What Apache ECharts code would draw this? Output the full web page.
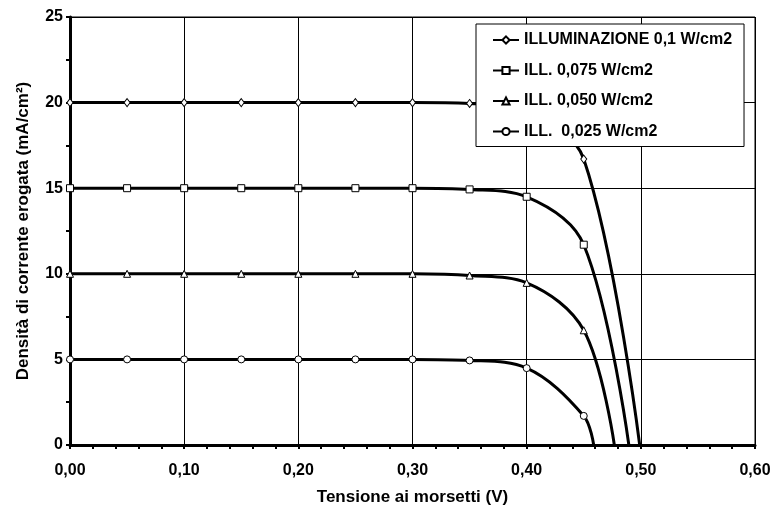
<!DOCTYPE html>
<html>
<head>
<meta charset="utf-8">
<script src="https://cdn.jsdelivr.net/npm/echarts@6/dist/echarts.min.js"></script>
<style>
html,body{margin:0;padding:0;background:#fff;}
#chart{width:781px;height:506px;}
</style>
</head>
<body>
<div id="chart"></div>
<script>
// Voltage values (V)
const voltages = [0, 0.05, 0.10, 0.15, 0.20, 0.25, 0.30, 0.35, 0.40, 0.45];
// Current density (mA/cm2) per illumination level
const ill100 = [20, 20, 20, 20, 20, 20, 20, 19.95, 19.5, 16.7];
const ill075 = [15, 15, 15, 15, 15, 15, 15, 14.93, 14.5, 11.7];
const ill050 = [10, 10, 10, 10, 10, 10, 10, 9.9, 9.47, 6.7];
const ill025 = [5, 5, 5, 5, 5, 5, 5, 4.94, 4.49, 1.7];
// Open-circuit voltages (current = 0)
const voc = [0.499, 0.4895, 0.4768, 0.4587];
const seriesNames = ['ILLUMINAZIONE 0,1 W/cm2', 'ILL. 0,075 W/cm2', 'ILL. 0,050 W/cm2', 'ILL.  0,025 W/cm2'];
const yTicks = [0, 5, 10, 15, 20, 25];
const xTicks = [0, 0.1, 0.2, 0.3, 0.4, 0.5, 0.6];

const FONT = 'Liberation Sans, Arial, sans-serif';
const symbols = ['diamond', 'rect', 'triangle', 'circle'];
const symSizes = [[6, 8], 7, 7, 7];
const allVals = [ill100, ill075, ill050, ill025];

function buildData(vals, vo) {
  const d = voltages.map((v, i) => [v, vals[i]]);
  d.push({ value: [vo, 0], symbol: 'none' });
  return d;
}

const chart = echarts.init(document.getElementById('chart'), null, { renderer: 'canvas' });
const series = seriesNames.map((name, k) => ({
  name: name,
  type: 'line',
  data: buildData(allVals[k], voc[k]),
  smooth: 0.35,
  symbol: symbols[k],
  symbolSize: symSizes[k],
  showAllSymbol: true,
  lineStyle: { color: '#000', width: 3 },
  itemStyle: { color: '#fff', borderColor: '#000', borderWidth: 1 },
  z: 3 + k
}));

chart.setOption({
  animation: false,
  backgroundColor: '#fff',
  grid: { left: 70, right: 26, top: 17, bottom: 61, show: true, borderColor: '#000', borderWidth: 1,
    containLabel: false, outerBoundsMode: 'none' },
  legend: {
    orient: 'vertical',
    left: 476, top: 24,
    padding: [8, 12, 7, 16],
    itemWidth: 26, itemHeight: 9, itemGap: 14.5,
    backgroundColor: '#fff',
    borderColor: '#000', borderWidth: 1,
    textStyle: { fontFamily: FONT, fontWeight: 'bold', fontSize: 16, color: '#000' },
    data: seriesNames
  },
  xAxis: {
    type: 'value', min: 0, max: 0.6, interval: 0.1,
    name: 'Tensione ai morsetti (V)', nameLocation: 'middle', nameGap: 44,
    nameTextStyle: { fontFamily: FONT, fontWeight: 'bold', fontSize: 17, color: '#000' },
    axisLine: { lineStyle: { color: '#000', width: 3 } },
    axisTick: { show: true, length: 4, lineStyle: { color: '#000', width: 2 } },
    minorTick: { show: true, splitNumber: 5, length: 4, lineStyle: { color: '#000', width: 2 } },
    splitLine: { show: true, lineStyle: { color: '#000', width: 1 } },
    axisLabel: { fontFamily: FONT, fontWeight: 'bold', fontSize: 16, color: '#000', margin: 18,
      formatter: v => v.toFixed(2).replace('.', ',') }
  },
  yAxis: {
    type: 'value', min: 0, max: 25, interval: 5,
    name: 'Densità di corrente erogata (mA/cm²)', nameLocation: 'middle', nameGap: 38,
    nameTextStyle: { fontFamily: FONT, fontWeight: 'bold', fontSize: 17, color: '#000' },
    axisLine: { show: true, lineStyle: { color: '#000', width: 3 } },
    axisTick: { show: true, length: 4, lineStyle: { color: '#000', width: 2 } },
    minorTick: { show: true, splitNumber: 2, length: 4, lineStyle: { color: '#000', width: 2 } },
    splitLine: { show: true, lineStyle: { color: '#000', width: 1 } },
    axisLabel: { fontFamily: FONT, fontWeight: 'bold', fontSize: 16, color: '#000', margin: 7,
      formatter: v => String(v) }
  },
  series: series
});
</script>
</body>
</html>
